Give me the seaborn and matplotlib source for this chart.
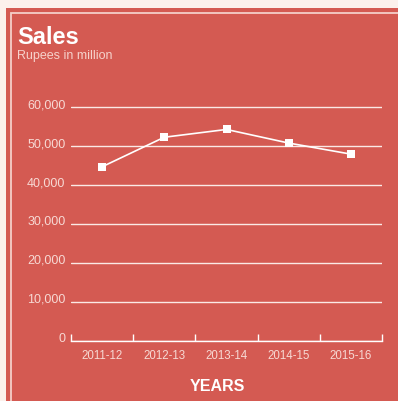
import matplotlib
matplotlib.use("Agg")
import matplotlib.pyplot as plt
import matplotlib.transforms as mtransforms
from matplotlib.patches import Rectangle
import seaborn as sns
import pandas as pd

years = ["2011-12", "2012-13", "2013-14", "2014-15", "2015-16"]
sales = [44700, 52300, 54300, 50800, 47950]
yticks = [0, 10000, 20000, 30000, 40000, 50000, 60000]
ytick_labels = ["0", "10,000", "20,000", "30,000", "40,000", "50,000", "60,000"]

RED = "#d45a52"
CREAM = "#fcf1ec"
LIGHT = "#f7d9d4"

sns.set_theme(style="white")
plt.rcParams["font.family"] = ["Liberation Sans", "DejaVu Sans"]

W, H = 398, 401
fig = plt.figure(figsize=(W / 100, H / 100), dpi=100)
fig.patch.set_facecolor(CREAM)
fig.patches.append(Rectangle((6 / W, 0), 1, 1 - 8 / H, transform=fig.transFigure,
                             facecolor=RED, edgecolor="none", zorder=-2))
fig.patches.append(Rectangle((10.5 / W, -0.1), 1, 1 - 12.5 / H + 0.1, transform=fig.transFigure,
                             facecolor="none", edgecolor="#f5cfc9", lw=1.3, zorder=-1))

top_val = 61000
y0, y60 = 340.5, 107.3
ytop = y0 - (y0 - y60) * top_val / 60000
ax = fig.add_axes([71 / W, 1 - y0 / H, (382 - 71) / W, (y0 - ytop) / H])
ax.set_facecolor("none")

df = pd.DataFrame({"idx": range(len(years)), "sales": sales})
sns.lineplot(data=df, x="idx", y="sales", ax=ax, color="white", lw=1.2,
             marker="s", markersize=6.2, markeredgecolor="white", markeredgewidth=0, zorder=5)

ax.set_xlim(-0.5, len(years) - 0.5)
ax.set_ylim(0, top_val)
ax.set_xticks(range(len(years)))
ax.set_xticklabels(years)
ax.set_xticks([i - 0.5 for i in range(len(years) + 1)], minor=True)
ax.tick_params(axis="x", which="major", length=0, pad=6.5, labelsize=8.3, labelcolor=LIGHT)
ax.tick_params(axis="x", which="minor", direction="in", length=5, width=1, color="white", bottom=True)
ax.set_yticks(yticks)
ax.set_yticklabels(ytick_labels)
ax.tick_params(axis="y", length=0, pad=4, labelsize=9, labelcolor=LIGHT)
off = mtransforms.ScaledTranslation(0, 3.5 / 100, fig.dpi_scale_trans)
for lab in ax.get_yticklabels():
    lab.set_transform(lab.get_transform() + off)

ax.yaxis.grid(True, color="#fbe9e6", lw=1)
ax.xaxis.grid(False)
for s in ["top", "right", "left"]:
    ax.spines[s].set_visible(False)
ax.spines["bottom"].set_color("white")
ax.spines["bottom"].set_linewidth(1)
ax.set_xlabel("")
ax.set_ylabel("")

fig.text(17 / W, 1 - 44 / H, "Sales", color="white", fontsize=17, fontweight="bold", va="baseline")
fig.text(17 / W, 1 - 58.5 / H, "Rupees in million", color="#f6d2cc", fontsize=9, va="baseline")
fig.text(217 / W, 1 - 391 / H, "YEARS", color="white", fontsize=11.5, fontweight="bold",
         va="baseline", ha="center")

fig.savefig("out.png", dpi=100, facecolor=fig.get_facecolor())
